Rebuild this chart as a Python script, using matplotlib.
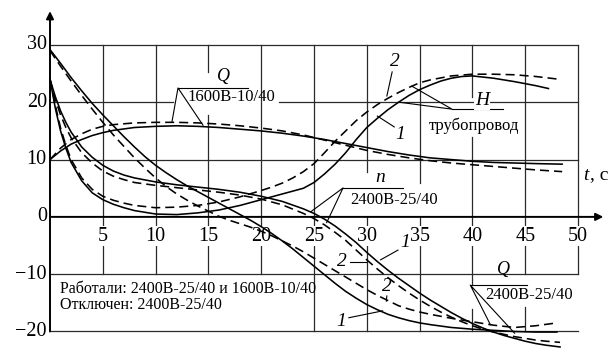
import matplotlib
matplotlib.use('Agg')
import matplotlib.pyplot as plt

plt.rcParams['font.family'] = ['Liberation Serif', 'DejaVu Serif']
plt.rcParams['lines.scale_dashes'] = False

# --- data (t in s) ---
t_q1600 = [0, 1, 2, 3, 4, 5, 6, 8, 10, 12, 14, 16, 18, 20, 22, 24, 26, 28, 30, 32, 34, 36, 38, 40, 42, 44, 46, 48.5]
q1600_1 = [10, 11.5, 12.7, 13.5, 14.2, 14.7, 15.1, 15.6, 15.8, 15.9, 15.8, 15.6, 15.3, 15.0, 14.6, 14.1, 13.5,
           12.8, 12.1, 11.4, 10.8, 10.3, 10.0, 9.7, 9.5, 9.4, 9.3, 9.2]
q1600_2 = [10, 12, 13.5, 14.5, 15.3, 15.8, 16.1, 16.4, 16.5, 16.5, 16.4, 16.2, 15.9, 15.5, 15.0, 14.3, 13.4,
           12.5, 11.6, 10.9, 10.3, 9.8, 9.4, 9.1, 8.8, 8.5, 8.2, 7.9]

t_h1 = [0, 0.5, 1, 1.5, 2, 3, 4, 5, 6, 7, 8, 10, 12, 14, 16, 18, 20, 22, 23, 24, 25, 26, 27, 28, 29, 30,
        31, 32, 33, 34, 35, 36, 37, 38, 39, 40, 42, 44, 46, 47.2]
h_1 = [24, 19, 15, 12, 9.5, 6.3, 4.2, 3.0, 2.2, 1.6, 1.1, 0.5, 0.4, 0.7, 1.2, 2.0, 3.0, 4.0, 4.5, 5.0, 6.0,
       7.5, 9.2, 11.2, 13.5, 15.6, 17.2, 18.7, 20.0, 21.2, 22.2, 23.0, 23.7, 24.2, 24.5, 24.6, 24.2, 23.6,
       22.9, 22.4]
t_h2 = [0, 0.5, 1, 1.5, 2, 3, 4, 5, 6, 7, 8, 10, 12, 14, 16, 18, 20, 21, 22, 23, 24, 25, 26, 27, 28, 29,
        30, 31, 32, 33, 34, 35, 36, 38, 40, 42, 44, 46, 48.3]
h_2 = [24, 19.5, 15.5, 12.5, 10, 6.8, 4.8, 3.6, 2.9, 2.4, 2.0, 1.6, 1.7, 2.0, 2.6, 3.5, 4.6, 5.2, 5.9, 6.8,
       7.9, 9.3, 11.2, 13.2, 15.0, 16.8, 18.3, 19.6, 20.7, 21.7, 22.6, 23.4, 23.9, 24.6, 24.9, 24.9, 24.8,
       24.5, 24.0]

t_n = [0, 0.5, 1, 1.5, 2, 3, 4, 5, 6, 7, 8, 10, 12, 14, 16, 18, 20, 22, 24, 25, 26, 27, 28, 29, 30, 31,
       32, 33, 34, 35, 36, 37, 38, 39, 40, 41, 42, 43, 44, 45, 46, 47, 48.3]
n_1 = [24, 21, 18.5, 16.5, 14.8, 12.2, 10.4, 9.0, 8.0, 7.3, 6.8, 6.1, 5.6, 5.2, 4.8, 4.3, 3.6, 2.7, 1.4,
       0.6, -0.4, -1.6, -3.0, -4.5, -6.2, -7.8, -9.3, -10.7, -12.0, -13.3, -14.5, -15.6, -16.7, -17.7,
       -18.6, -19.4, -20.1, -20.7, -21.2, -21.7, -22.1, -22.4, -22.7]
n_2 = [24, 20.5, 17.8, 15.6, 13.8, 11.2, 9.4, 8.0, 7.1, 6.5, 6.0, 5.5, 5.1, 4.7, 4.3, 3.8, 3.1, 2.1, 0.6,
       -0.3, -1.4, -2.7, -4.1, -5.8, -7.5, -9.1, -10.6, -12.0, -13.3, -14.5, -15.6, -16.6, -17.5, -18.3,
       -19.0, -19.6, -20.1, -20.5, -20.9, -21.2, -21.5, -21.7, -21.9]

t_q2400 = [0, 1, 2, 3, 4, 5, 6, 7, 8, 9, 10, 11, 12, 13, 14, 15, 16, 17, 18, 19, 20, 21, 22, 23, 24, 25,
           26, 27, 28, 29, 30, 31, 32, 33, 34, 35, 36, 38, 40, 42, 44, 46, 48]
q2400_1 = [29.2, 26.8, 24.3, 22, 19.8, 17.8, 15.9, 14.0, 12.2, 10.5, 9.0, 7.7, 6.5, 5.4, 4.4, 3.4, 2.4,
           1.4, 0.4, -0.6, -1.7, -2.9, -4.2, -5.6, -7.1, -8.6, -10.1, -11.6, -13.0, -14.2, -15.3, -16.2,
           -17.0, -17.6, -18.1, -18.5, -18.8, -19.3, -19.6, -19.8, -20.0, -20.1, -20.1]
q2400_2 = [29, 26.3, 23.7, 21.2, 18.8, 16.5, 14.3, 12.3, 10.3, 8.5, 6.8, 5.3, 4.0, 2.9, 1.9, 1.0, 0.1,
           -0.6, -1.2, -1.8, -2.5, -3.3, -4.2, -5.1, -6.1, -7.2, -8.3, -9.4, -10.5, -11.6, -12.7, -13.7,
           -14.6, -15.5, -16.1, -16.6, -17.0, -17.7, -18.3, -18.9, -19.3, -19.0, -18.5]

x_ticks = [5, 10, 15, 20, 25, 30, 35, 40, 45, 50]
y_ticks = [30, 20, 10, 0, -10, -20]

fig = plt.figure(figsize=(6.11, 3.52), dpi=100)
ax = fig.add_axes([0, 0, 1, 1])
ax.set_xlim(-4.735, 53.125)
ax.set_ylim(-23.58, 37.85)
ax.axis('off')

grid_kw = dict(color='#2a2a2a', lw=0.9, zorder=1)

# vertical grid lines, with the blank places behind the labels
v_gaps = {5: [(-20, -10)], 10: [(-20, -10)], 15: [(17.8, 25.2), (-20, -10)], 20: [(-20, -10)],
          30: [(0, 7.8)], 35: [(0, 6.0)], 40: [(14.0, 20.9), (-16.0, -11.8)], 45: [(-15.7, -10)],
          50: [(-20, -10)]}
for t in x_ticks:
    pieces = [(-20, 30)]
    for g0, g1 in sorted(v_gaps.get(t, [])):
        a, b = pieces.pop()
        pieces += [(a, g0), (g1, b)]
    for a, b in pieces:
        if b > a:
            ax.plot([t, t], [a, b], **grid_kw)

h_gaps = {20: [(11.65, 21.7)]}
for v in [30, 20, 10, -10, -20]:
    pieces = [(0, 50)]
    for g0, g1 in h_gaps.get(v, []):
        a, b = pieces.pop()
        pieces += [(a, g0), (g1, b)]
    for a, b in pieces:
        ax.plot([a, b], [v, v], **grid_kw)

# axes with arrows
arr = dict(arrowstyle='-|>', lw=1.4, color='k', mutation_scale=11, shrinkA=0, shrinkB=0)
ax.annotate('', xy=(52.4, 0), xytext=(0, 0), arrowprops=arr, zorder=2)
ax.annotate('', xy=(0, 35.9), xytext=(0, -20), arrowprops=arr, zorder=2)

tick_font = 14.5
for t in x_ticks:
    ax.text(t, -3.4, str(t), ha='center', va='center', fontsize=tick_font,
            bbox=dict(fc='white', ec='none', pad=0.3), zorder=2)
for v in y_ticks:
    ax.text(-0.3, v, str(v).replace('-', '\u2212'), ha='right', va='center', fontsize=tick_font)
ax.text(50.5, 7.3, 't', style='italic', ha='left', va='center', fontsize=14)
ax.text(51.1, 7.3, ', с', ha='left', va='center', fontsize=14)

# curves
lw = 1.15
dash = (6.5, 3.6)
ax.plot(t_q1600, q1600_1, color='k', lw=lw, zorder=3)
ax.plot(t_q1600, q1600_2, color='k', lw=lw, dashes=dash, zorder=3)
ax.plot(t_h1, h_1, color='k', lw=lw, zorder=3)
ax.plot(t_h2, h_2, color='k', lw=lw, dashes=dash, zorder=3)
ax.plot(t_n, n_1, color='k', lw=lw, zorder=3)
ax.plot(t_n, n_2, color='k', lw=lw, dashes=dash, zorder=3)
ax.plot(t_q2400, q2400_1, color='k', lw=lw, zorder=3, clip_on=False)
ax.plot(t_q2400, q2400_2, color='k', lw=lw, dashes=dash, zorder=3, clip_on=False)

# leader lines and labels
lead = dict(color='k', lw=0.8, zorder=2.5)
lab = 12
num = 14

# Q 1600
ax.plot([11.55, 12.12, 14.49], [16.6, 22.5, 16.0], **lead)
ax.plot([12.12, 18.75], [22.5, 22.5], **lead)
ax.text(16.4, 24.5, 'Q', style='italic', ha='center', va='center', fontsize=13)
ax.text(17.2, 20.9, '1600В-10/40', ha='center', va='center', fontsize=lab)

# H
ax.plot([34.28, 38.07, 33.1], [22.8, 18.8, 20.0], **lead)
ax.plot([38.07, 42.9], [18.8, 18.8], **lead)
ax.text(40.9, 20.3, 'H', style='italic', ha='center', va='center', fontsize=14,
        bbox=dict(fc='white', ec='none', pad=0.5), zorder=4)
ax.text(40.2, 15.9, 'трубопровод', ha='center', va='center', fontsize=lab)
ax.text(32.7, 27.1, '2', style='italic', ha='center', va='center', fontsize=num)
ax.plot([32.4, 31.9], [25.3, 21.1], **lead)
ax.text(33.2, 14.4, '1', style='italic', ha='center', va='center', fontsize=num)
ax.plot([32.6, 31.0], [15.7, 17.6], **lead)

# n
ax.plot([24.7, 27.75, 26.2], [0.9, 5.05, -1.0], **lead)
ax.plot([27.75, 33.4], [5.05, 5.05], **lead)
ax.text(31.25, 6.9, 'n', style='italic', ha='center', va='center', fontsize=14)
ax.text(32.6, 2.9, '2400В-25/40', ha='center', va='center', fontsize=lab)
ax.text(27.6, -7.7, '2', style='italic', ha='center', va='center', fontsize=num)
ax.plot([28.4, 29.9], [-7.9, -7.9], **lead)
ax.text(33.6, -4.5, '1', style='italic', ha='center', va='center', fontsize=num)
ax.plot([32.95, 31.3], [-5.8, -7.5], **lead)

# Q 2400
ax.text(31.9, -12.1, '2', style='italic', ha='center', va='center', fontsize=num)
ax.plot([31.9, 31.85], [-13.8, -14.7], **lead)
ax.text(27.6, -18.3, '1', style='italic', ha='center', va='center', fontsize=num)
ax.plot([28.3, 31.5], [-17.6, -16.4], **lead)
ax.plot([41.7, 39.8, 44.0], [-18.8, -11.9, -20.3], **lead)
ax.plot([39.8, 45.2], [-11.9, -11.9], **lead)
ax.text(42.9, -9.2, 'Q', style='italic', ha='center', va='center', fontsize=13)
ax.text(45.4, -13.7, '2400В-25/40', ha='center', va='center', fontsize=lab)

ax.text(0.9, -12.6, 'Работали: 2400В-25/40 и 1600В-10/40', ha='left', va='center', fontsize=11.5)
ax.text(0.9, -15.4, 'Отключен: 2400В-25/40', ha='left', va='center', fontsize=11.5)

fig.savefig('out.png', dpi=100, facecolor='white')
